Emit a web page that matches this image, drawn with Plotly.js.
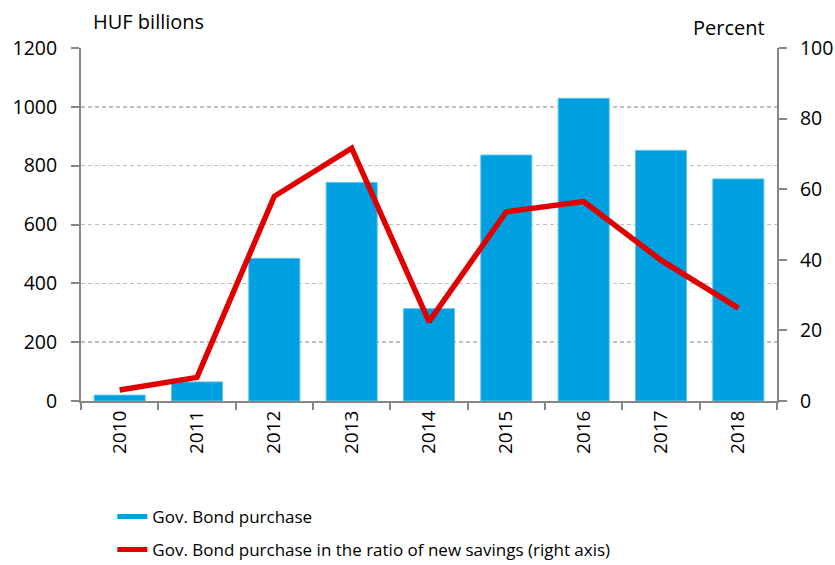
<!DOCTYPE html>
<html>
<head>
<meta charset="utf-8">
<script src="https://cdn.plot.ly/plotly-3.0.1.min.js"></script>
<style>html,body{margin:0;padding:0;background:#fff;}#chart{width:835px;height:565px;}</style>
</head>
<body>
<div id="chart"></div>
<script>
const years = ["2010","2011","2012","2013","2014","2015","2016","2017","2018"];
const bondPurchase = [20, 65, 485, 743, 314, 836, 1029, 852, 755];
const ratioNewSavings = [3.1, 6.7, 58, 71.6, 22.5, 53.6, 56.5, 39.9, 26.3];
const leftTicks = [0, 200, 400, 600, 800, 1000, 1200];
const rightTicks = [0, 20, 40, 60, 80, 100];
const barName = "Gov. Bond purchase";
const lineName = "Gov. Bond purchase in the ratio of new savings (right axis)";

const FONT = "'Open Sans', 'Noto Sans', sans-serif";
const traces = [
  {
    type: "bar", x: years, y: bondPurchase, name: barName,
    marker: {color: "#009fe0", line: {color: "#5cc4ee", width: 1}},
    showlegend: false, yaxis: "y", hoverinfo: "x+y"
  },
  {
    type: "scatter", mode: "lines", x: [null], y: [null], name: barName,
    line: {color: "#009fe0", width: 13}, yaxis: "y", showlegend: true, legendgroup: "a"
  },
  {
    type: "scatter", mode: "lines", x: years, y: ratioNewSavings, name: lineName,
    line: {color: "#e00000", width: 5.5}, yaxis: "y2", legendgroup: "b"
  }
];

const layout = {
  width: 835, height: 565,
  margin: {l: 81, r: 58, t: 48, b: 164},
  paper_bgcolor: "#fff", plot_bgcolor: "#fff",
  font: {family: FONT, size: 19, color: "#000"},
  bargap: 0.34,
  xaxis: {
    type: "category", tickangle: -90, showline: true, linecolor: "#868686", linewidth: 2,
    ticks: "outside", tickson: "boundaries", ticklen: 7, tickcolor: "#868686", tickwidth: 2,
    showgrid: false, tickfont: {family: FONT, size: 19}, zeroline: false, automargin: false
  },
  yaxis: {
    range: [0, 1200], tickvals: leftTicks, showline: true, linecolor: "#868686", linewidth: 2,
    ticks: "outside", ticklen: 8, tickcolor: "#868686", tickwidth: 2,
    showgrid: true, gridcolor: "#c0c0c0", griddash: "4px,3px", gridwidth: 1.5,
    zeroline: false, tickfont: {family: FONT, size: 19.5}, ticklabelstandoff: 10, automargin: false
  },
  yaxis2: {
    overlaying: "y", side: "right", range: [0, 100], tickvals: rightTicks,
    showline: true, linecolor: "#868686", linewidth: 2,
    ticks: "outside", ticklen: 8, tickcolor: "#868686", tickwidth: 2,
    showgrid: false, zeroline: false, tickfont: {family: FONT, size: 19.5}, ticklabelstandoff: 9, automargin: false
  },
  legend: {
    orientation: "v", x: 0.045, xanchor: "left", yref: "container", y: 0.117, yanchor: "top",
    font: {family: FONT, size: 17}, tracegroupgap: 8, itemsizing: "constant"
  },
  annotations: [
    {text: "HUF billions", xref: "paper", yref: "paper", x: 0.014, y: 1.031, xanchor: "left", yanchor: "bottom", showarrow: false, font: {family: FONT, size: 20}},
    {text: "Percent", xref: "paper", yref: "paper", x: 0.986, y: 1.014, xanchor: "right", yanchor: "bottom", showarrow: false, font: {family: FONT, size: 20}}
  ]
};

Plotly.newPlot("chart", traces, layout, {displayModeBar: false, staticPlot: true});
</script>
</body>
</html>
